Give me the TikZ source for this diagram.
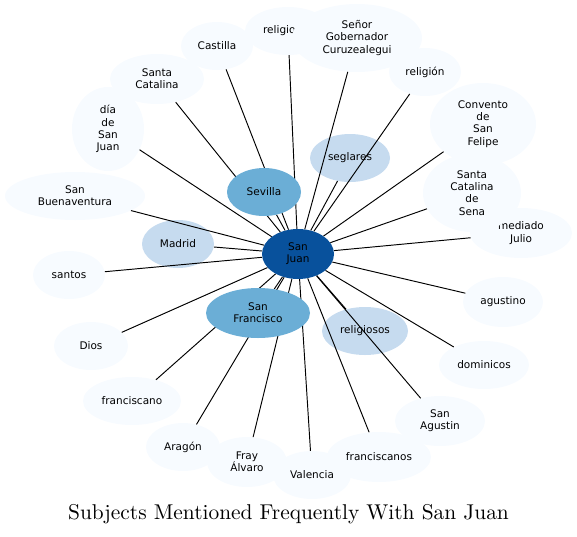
\documentclass[tikz,border=0pt]{standalone}
\usepackage{fontspec}
\newfontfamily\dv{DejaVu Sans}
\newfontfamily\titlefont{lmroman10-regular.otf}
\usetikzlibrary{shapes.geometric}
\definecolor{cLight}{HTML}{F7FBFF}
\definecolor{cMid}{HTML}{C6DBEF}
\definecolor{cMed}{HTML}{6BAED6}
\definecolor{cDark}{HTML}{08519C}
\pgfdeclarelayer{edgelayer}
\pgfdeclarelayer{toplayer}
\pgfsetlayers{main,edgelayer,toplayer}
\tikzset{
  nd/.style={ellipse, inner sep=0pt, draw=none, align=center, text=black,
    font=\dv\fontsize{10.5}{12.2}\selectfont},
  lt/.style={nd, fill=cLight},
  md/.style={nd, fill=cMid},
  mm/.style={nd, fill=cMed},
  dk/.style={nd, fill=cDark},
  sz/.style 2 args={minimum width=#1, minimum height=#2},
  link/.style={draw=black, line width=0.95pt}
}
\begin{document}
\begin{tikzpicture}[x=1pt,y=-1pt]
\useasboundingbox (0,0) rectangle (577,536);
% light nodes
\node[lt, sz={72}{48}] (castilla) at (217,46) {Castilla};
\node[lt, sz={86}{48}] (religic) at (288,31) {religiosas};
\node[lt, sz={130}{68}] (senor) at (357,38) {Señor\\Gobernador\\Curuzealegui};
\node[lt, sz={72}{48}] (religion) at (425,72) {religión};
\node[lt, sz={106}{82}] (convento) at (483,124) {Convento\\de\\San\\Felipe};
\node[lt, sz={102}{50}] (mediado) at (521,233) {mediado\\Julio};
\node[lt, sz={98}{78}] (sena) at (472,193) {Santa\\Catalina\\de\\Sena};
\node[lt, sz={80}{50}] (agustino) at (503,302) {agustino};
\node[lt, sz={90}{48}] (dominicos) at (484,365) {dominicos};
\node[lt, sz={90}{50}] (sanagustin) at (440,421) {San\\Agustin};
\node[lt, sz={104}{50}] (franciscanos) at (379,457) {franciscanos};
\node[lt, sz={80}{50}] (fray) at (247,462) {Fray\\Álvaro};
\node[lt, sz={78}{48}] (valencia) at (312,475) {Valencia};
\node[lt, sz={74}{48}] (aragon) at (183,447) {Aragón};
\node[lt, sz={98}{48}] (franciscano) at (132,401) {franciscano};
\node[lt, sz={74}{48}] (dios) at (91,346) {Dios};
\node[lt, sz={72}{48}] (santos) at (69,275) {santos};
\node[lt, sz={140}{48}] (buena) at (75,196) {San\\Buenaventura};
\node[lt, sz={72}{84}] (dia) at (108,129) {día\\de\\San\\Juan};
\node[lt, sz={94}{50}] (stacat) at (157,79) {Santa\\Catalina};
% mid nodes
\node[md, sz={80}{48}] (seglares) at (350,158) {seglares};
\node[md, sz={86}{48}] (religiosos) at (365,331) {religiosos};
\node[md, sz={72}{48}] (madrid) at (178,244) {Madrid};
% top nodes
\begin{pgfonlayer}{toplayer}
\node[mm, sz={74}{48}] (sevilla) at (264,192) {Sevilla};
\node[mm, sz={104}{50}] (sanfrancisco) at (258,313) {San\\Francisco};
\node[dk, sz={72}{50}] (sanjuan) at (298,254) {San\\Juan};
\end{pgfonlayer}
% edges
\begin{pgfonlayer}{edgelayer}
\foreach \t in {castilla,religic,senor,religion,convento,mediado,sena,agustino,
  dominicos,sanagustin,franciscanos,fray,valencia,aragon,franciscano,dios,santos,
  buena,dia,stacat,seglares,religiosos,madrid,sevilla,sanfrancisco}
  \draw[link] (sanjuan) -- (\t);
\end{pgfonlayer}
% title
\node[anchor=base, font=\titlefont\fontsize{21.4}{25}\selectfont, inner sep=0pt] (title) at (288.5,519) {Subjects Mentioned Frequently With San Juan};
\end{tikzpicture}
\end{document}
